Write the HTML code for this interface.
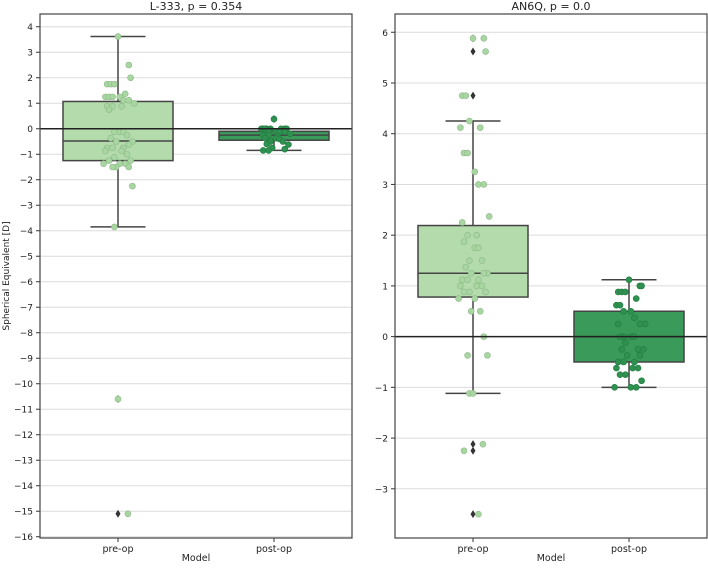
<!DOCTYPE html>
<html><head><meta charset="utf-8"><style>
body{margin:0;background:#fff;width:708px;height:565px;overflow:hidden}
svg text{font-family:"DejaVu Sans","Liberation Sans",sans-serif;fill:#222}
</style></head><body>
<svg id="c" width="708" height="565"></svg>
<script>
const categories=["pre-op","post-op"];
// Left panel (L-333)
const lTicks=[4,3,2,1,0,-1,-2,-3,-4,-5,-6,-7,-8,-9,-10,-11,-12,-13,-14,-15,-16];
const lPreStats=[-3.85,-1.25,-0.48,1.07,3.62];
const lPostStats=[-0.85,-0.45,-0.25,-0.1,0.0];
const lPreOut=[-10.6,-15.1];
const lPostOut=[0.38];
const lPrePts=[3.62,2.5,2.0,1.75,1.75,1.75,1.37,1.25,1.25,1.25,1.25,1.12,1.12,1.0,0.88,0.88,0.88,0.75,-0.12,-0.12,-0.12,-0.25,-0.37,-0.5,-0.5,-0.62,-0.75,-0.75,-0.75,-0.87,-0.87,-1.0,-1.12,-1.25,-1.25,-1.37,-1.37,-1.37,-1.5,-1.5,-1.5,-2.25,-3.85,-10.6,-15.1];
const lPostPts=[0.38,0,0,0,0,0,0,0,0,-0.05,-0.1,-0.12,-0.12,-0.2,-0.25,-0.25,-0.3,-0.37,-0.37,-0.4,-0.5,-0.5,-0.6,-0.62,-0.75,-0.8,-0.85,-0.85];
// Right panel (AN6Q)
const rTicks=[6,5,4,3,2,1,0,-1,-2,-3];
const rPreStats=[-1.12,0.78,1.25,2.19,4.25];
const rPostStats=[-1.0,-0.5,0.0,0.5,1.12];
const rPreOut=[5.88,5.62,4.75,-2.12,-2.25,-3.5];
const rPostOut=[];
const rPrePts=[5.88,5.88,5.62,4.75,4.75,4.25,4.12,4.12,3.62,3.62,3.25,3.0,3.0,2.37,2.25,2.0,2.0,1.87,1.75,1.75,1.5,1.5,1.37,1.25,1.25,1.25,1.12,1.12,1.12,1.0,1.0,1.0,0.88,0.88,0.88,0.75,0.75,0.5,0.5,0,-0.37,-0.37,-1.12,-1.12,-2.12,-2.25,-3.5];
const rPostPts=[1.12,1.0,1.0,0.88,0.88,0.88,0.75,0.62,0.62,0.5,0.5,0.37,0.25,0.25,0.25,0,0,0,0,0,-0.12,-0.25,-0.25,-0.25,-0.37,-0.37,-0.5,-0.5,-0.5,-0.62,-0.62,-0.62,-0.75,-0.75,-0.87,-1,-1,-1];
const jitter=[0,0.6,0.7,-0.6,-0.4,-0.2,0.4,-0.7,-0.5,-0.3,0.1,0.3,0.6,0.9,-0.6,-0.3,0.2,-0.5,0.1,0.3,-0.2,0.5,-0.4,0.8,-0.1,0.6,-0.6,-0.3,0.3,-0.7,0.2,0.5,-0.2,-0.5,0.7,0.1,-0.8,0.4,-0.1,0.6,-0.3,0.8,-0.2,0,0.55,-0.5,0.3];

const NS="http://www.w3.org/2000/svg";
const svg=document.getElementById('c');
function mk(tag,attrs,parent){const e=document.createElementNS(NS,tag);for(const k in attrs)e.setAttribute(k,attrs[k]);(parent||svg).appendChild(e);return e;}

function panel(o){
  const g=mk('g',{});
  
  
  const L=o.x0,R=o.x1,T=14,B=538;
  const y=v=>T+(o.vmax-v)/(o.vmax-o.vmin)*(B-T);
  const xc=i=>L+(R-L)*(0.25+0.5*i);
  const bw=110;
  for(const t of o.ticks){
    const ln=mk('line',{x1:L,x2:R,y1:y(t),y2:y(t),stroke:'#dcdcdc','stroke-width':1},g);
    
    
    mk('line',{x1:L-4,x2:L,y1:y(t),y2:y(t),stroke:'#333'},g);
    const tx=mk('text',{x:L-7,y:y(t)+3.5,'text-anchor':'end','font-size':9},g);
    tx.textContent=String(t).replace('-','\u2212');
    
    
  }
  const fills=['#b3dbac','#3a9a59'];
  const ptFill=['#a8d6a0','#2e9150'];
  const ptStroke=['#8fb88a','#237a40'];
  const stats=[o.preStats,o.postStats],pts=[o.prePts,o.postPts],outs=[o.preOut,o.postOut];
  for(let i=0;i<2;i++){
    const c=xc(i),s=stats[i];
    const grp=mk('g',{},g);
    
    
    mk('line',{x1:c,x2:c,y1:y(s[3]),y2:y(s[4]),stroke:'#444','stroke-width':1.5},grp);
    mk('line',{x1:c,x2:c,y1:y(s[1]),y2:y(s[0]),stroke:'#444','stroke-width':1.5},grp);
    mk('line',{x1:c-bw/4,x2:c+bw/4,y1:y(s[4]),y2:y(s[4]),stroke:'#444','stroke-width':1.5},grp);
    mk('line',{x1:c-bw/4,x2:c+bw/4,y1:y(s[0]),y2:y(s[0]),stroke:'#444','stroke-width':1.5},grp);
    mk('rect',{x:c-bw/2,y:y(s[3]),width:bw,height:y(s[1])-y(s[3]),fill:fills[i],stroke:'#444','stroke-width':1.5},grp);
    mk('line',{x1:c-bw/2,x2:c+bw/2,y1:y(s[2]),y2:y(s[2]),stroke:'#444','stroke-width':1.5},grp);
    for(const v of outs[i]){
      const d=mk('path',{d:`M${c},${y(v)-4}L${c+2.5},${y(v)}L${c},${y(v)+4}L${c-2.5},${y(v)}Z`,fill:'#333'},grp);
      
      
    }
    pts[i].forEach((v,k)=>{
      const p=mk('circle',{cx:c+jitter[k%jitter.length]*18,cy:y(v),r:3,fill:ptFill[i],stroke:ptStroke[i],'stroke-width':0.6},grp);
      
      
    });
    mk('line',{x1:c,x2:c,y1:B,y2:B+4,stroke:'#333'},g);
    const xl=mk('text',{x:c,y:B+14,'text-anchor':'middle','font-size':9.5},g);
    xl.textContent=categories[i];
    
    
  }
  const z=mk('line',{x1:L,x2:R,y1:y(0),y2:y(0),stroke:'#222','stroke-width':1.6},g);
  
  
  const fr=mk('rect',{x:L,y:T,width:R-L,height:B-T,fill:'none',stroke:'#444','stroke-width':1.2},g);
  
  
  const ti=mk('text',{x:(L+R)/2,y:10,'text-anchor':'middle','font-size':11},g);
  ti.textContent=o.title;
  
  
  const xt=mk('text',{x:(L+R)/2,y:561,'text-anchor':'middle','font-size':9.5},g);
  xt.textContent='Model';
  
  
}
panel({name:'panel-l333',title:'L-333, p = 0.354',x0:40,x1:352,vmax:4.5,vmin:-16.05,ticks:lTicks,preStats:lPreStats,postStats:lPostStats,preOut:lPreOut,postOut:lPostOut,prePts:lPrePts,postPts:lPostPts});
panel({name:'panel-an6q',title:'AN6Q, p = 0.0',x0:395,x1:707,vmax:6.36,vmin:-3.97,ticks:rTicks,preStats:rPreStats,postStats:rPostStats,preOut:rPreOut,postOut:rPostOut,prePts:rPrePts,postPts:rPostPts});
const yl=mk('text',{x:0,y:0,'text-anchor':'middle','font-size':9,transform:'translate(9,276) rotate(-90)'});
yl.textContent='Spherical Equivalent [D]';


</script>
</body></html>
